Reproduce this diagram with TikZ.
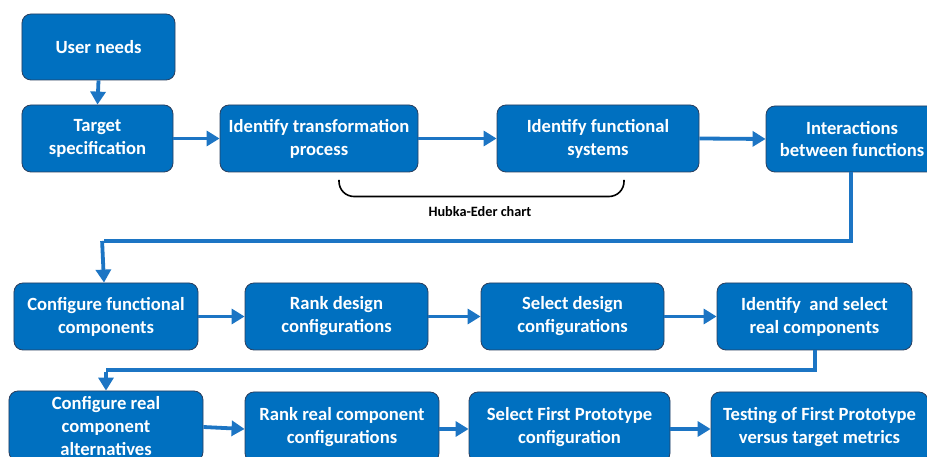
\documentclass[tikz,border=0pt]{standalone}
\usepackage{fontspec}
\setmainfont{Carlito}
\usetikzlibrary{arrows.meta}
\definecolor{boxblue}{HTML}{0070C0}
\definecolor{boxedge}{HTML}{2A3F5F}
\definecolor{arrblue}{HTML}{1C75C4}
\tikzset{
  stepbox/.style={draw=boxedge, line width=0.8bp, fill=boxblue, rounded corners=9bp,
    text=white, font=\bfseries\fontsize{18.7}{23}\selectfont, align=center, inner sep=0pt},
  flow/.style={draw=arrblue, line width=3.8bp, -{Triangle[length=13bp,width=15bp]}},
  link/.style={draw=arrblue, line width=3.8bp},
}
\begin{document}
\begin{tikzpicture}[x=1bp,y=-1bp]
\clip (0,0) rectangle (927,457);
\fill[white] (0,0) rectangle (927,457);
% row 0/1
\node[stepbox, minimum width=153bp, minimum height=66bp] (un) at (98.5,47) {User needs};
\node[stepbox, minimum width=151bp, minimum height=67bp] (ts) at (97.5,138.5) {Target\\specification};
\node[stepbox, minimum width=198bp, minimum height=67bp] (itp) at (319,138.5) {Identify transformation\\process};
\node[stepbox, minimum width=202bp, minimum height=67bp] (ifs) at (598,138.5) {Identify functional\\systems};
\node[stepbox, minimum width=172bp, minimum height=66bp] (ibf) at (852,139) {Interactions\\between functions};
% row 2
\node[stepbox, minimum width=184bp, minimum height=67bp] (cfc) at (106,316.5) {Configure functional\\components};
\node[stepbox, minimum width=183bp, minimum height=67bp] (rdc) at (336.5,316.5) {Rank design\\configurations};
\node[stepbox, minimum width=183bp, minimum height=67bp] (sdc) at (572.5,316.5) {Select design\\configurations};
\node[stepbox, minimum width=195bp, minimum height=67bp] (isr) at (814.5,316.5) {Identify\ \ and select\\real components};
% row 3
\node[stepbox, minimum width=194bp, minimum height=70bp] (cra) at (106,426) {Configure real\\component\\alternatives};
\node[stepbox, minimum width=194bp, minimum height=70bp] (rrc) at (342,427) {Rank real component\\configurations};
\node[stepbox, minimum width=201bp, minimum height=70bp] (sfp) at (569.5,427) {Select First Prototype\\configuration};
\node[stepbox, minimum width=217bp, minimum height=70bp] (tfp) at (819.5,427) {Testing of First Prototype\\versus target metrics};
% arrows
\draw[flow] (un.south) -- (ts.north);
\draw[flow] (ts.east) -- (itp.west);
\draw[flow] (itp.east) -- (ifs.west);
\draw[flow] (ifs.east) -- (ibf.west);
\coordinate (b1) at (851,241);
\coordinate (b2) at (104,241);
\draw[link] (ibf.south -| b1) -- (b1) -- (b2);
\draw[flow] ([xshift=-1.9bp]b2) -- (b2 |- cfc.north);
\draw[flow] (cfc.east) -- (rdc.west);
\draw[flow] (rdc.east) -- (sdc.west);
\draw[flow] (sdc.east) -- (isr.west);
\coordinate (c1) at (815,370);
\coordinate (c2) at (106,370);
\draw[link] (isr.south -| c1) -- (c1) -- (c2);
\draw[flow] ([yshift=-1.9bp]c2) -- (c2 |- cra.north);
\draw[flow] ([yshift=-1bp]cra.east) -- ([yshift=-2bp]rrc.west);
\draw[flow] ([yshift=-2bp]rrc.east) -- ([yshift=-2bp]sfp.west);
\draw[flow] ([yshift=-2bp]sfp.east) -- ([yshift=-2bp]tfp.west);
% bracket
\coordinate (k1) at (339,180);
\coordinate (k2) at (624,180);
\draw[black, line width=1.6bp, rounded corners=15bp] (k1) -- (339,196.5) -- (624,196.5) -- (k2);
\node[font=\bfseries\fontsize{14.3}{17}\selectfont, text=black] (hub) at (480,212) {Hubka-Eder chart};
\end{tikzpicture}
\end{document}
